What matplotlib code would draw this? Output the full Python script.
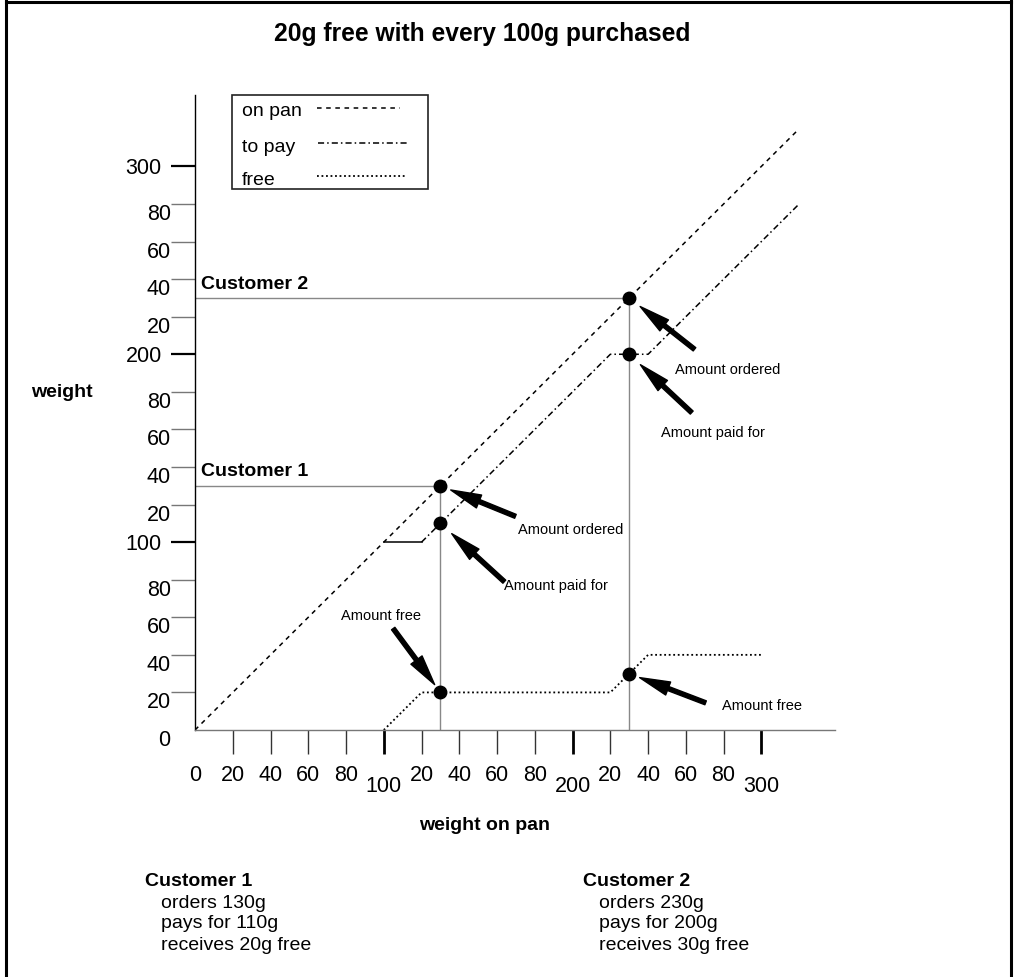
import matplotlib
matplotlib.use('Agg')
import matplotlib.pyplot as plt
from matplotlib.lines import Line2D
from matplotlib.patches import Rectangle

plt.rcParams['font.family'] = ['Liberation Sans', 'DejaVu Sans']

# lines: weight on pan, weight to pay, weight free
pan_x = [0, 320]
pan_y = [0, 320]
pay_x = [100, 120, 220, 240, 320]
pay_y = [100, 100, 200, 200, 280]
free_x = [100, 120, 220, 240, 300]
free_y = [0, 20, 20, 40, 40]

# the two customers
customers = ['Customer 1', 'Customer 2']
cust_pan = [130, 230]
cust_pay = [110, 200]
cust_free = [20, 30]

# ticks
major_ticks = [100, 200, 300]
major_labels = ['100', '200', '300']
minor_ticks = [0, 20, 40, 60, 80, 120, 140, 160, 180, 220, 240, 260, 280]
minor_labels = ['0', '20', '40', '60', '80', '20', '40', '60', '80', '20', '40', '60', '80']

W, H = 1015, 977
fig = plt.figure(figsize=(W / 100, H / 100), dpi=100)


def fx(x):
    return x / W


def fy(y):
    return 1 - y / H


ax = fig.add_axes([fx(195), fy(730), 640 / W, 635 / H])
ax.set_xlim(0, 339)
ax.set_ylim(0, 338)

for s in ['top', 'right']:
    ax.spines[s].set_visible(False)
ax.spines['left'].set_color('black')
ax.spines['left'].set_linewidth(1.0)
ax.spines['bottom'].set_color('#777777')
ax.spines['bottom'].set_linewidth(1.0)

# curves
ax.plot(pan_x, pan_y, color='black', lw=1.1, linestyle=(0, (3, 3)))
ax.plot(pay_x[:2], pay_y[:2], color='black', lw=1.1)
ax.plot(pay_x[1:], pay_y[1:], color='black', lw=1.1, linestyle=(0, (4, 2, 1, 2)))
ax.plot(free_x, free_y, color='black', lw=1.3, linestyle=(0, (1, 1.5)))

# customer guide lines, dots, arrows
arrow = dict(arrowstyle='simple,head_length=2.2,head_width=1.0,tail_width=0.3',
             fc='black', ec='black', mutation_scale=10, shrinkA=0)
ordered_off = [((54, -22), 8, (56, -32), 'left'), ((47, -37), 10, (33, -52), 'left')]
paid_off = [((46, -42), 11, (46, -45), 'left'), ((45, -42), 11, (23, -57), 'left')]
free_off = [((-34, 46), 7, (-43, 55), 'center'), ((55, -21), 8, (67, -23), 'left')]

for i, name in enumerate(customers):
    x = cust_pan[i]
    ax.plot([0, x], [cust_pan[i], cust_pan[i]], color='#888888', lw=1.0, zorder=1)
    ax.plot([x, x], [0, cust_pan[i]], color='#888888', lw=1.0, zorder=1)
    ax.annotate(name, xy=(0, cust_pan[i]), xytext=(4, 10), textcoords='offset points',
                fontsize=14, fontweight='bold', va='center', ha='left')
    ax.plot([x, x, x], [cust_pan[i], cust_pay[i], cust_free[i]], 'o',
            color='black', ms=9, zorder=5)
    for yv, (tail, shr, txt, ha), label in [(cust_pan[i], ordered_off[i], 'Amount ordered'),
                                            (cust_pay[i], paid_off[i], 'Amount paid for'),
                                            (cust_free[i], free_off[i], 'Amount free')]:
        ax.annotate('', xy=(x, yv), xytext=tail, textcoords='offset points',
                    arrowprops=dict(arrow, shrinkB=shr))
        ax.annotate(label, xy=(x, yv), xytext=txt, textcoords='offset points',
                    fontsize=10.5, ha=ha, va='center')

# ticks
for axis in (ax.xaxis, ax.yaxis):
    axis.set_ticks(major_ticks, major_labels)
    axis.set_ticks(minor_ticks, minor_labels, minor=True)
ax.tick_params(which='both', labelsize=15.5)
ax.tick_params(axis='x', which='major', length=17, width=2, color='black', pad=16)
ax.tick_params(axis='x', which='minor', length=17, width=1, color='#333333', pad=8)
ax.tick_params(axis='y', which='major', length=17, width=1.6, color='black', pad=7)
ax.tick_params(axis='y', which='minor', length=17, width=1, color='#777777', pad=0.5)
ax.xaxis.get_minor_ticks()[0].tick1line.set_visible(False)
ax.yaxis.get_minor_ticks()[0].tick1line.set_visible(False)
for lab in ax.get_yticklabels(minor=True):
    lab.set_va('top')

ax.set_xlabel('weight on pan', fontsize=14, fontweight='bold', va='center')
ax.xaxis.set_label_coords(0.453, -0.151)
ax.set_ylabel('weight', fontsize=14, fontweight='bold', rotation=0, ha='center', va='center')
ax.yaxis.set_label_coords(-0.208, 0.531)

# legend box, drawn by hand so the labels sit left of the samples
fig.add_artist(Rectangle((fx(232), fy(189)), 196 / W, 94 / H, transform=fig.transFigure,
                         fill=False, ec='#222222', lw=1.2))
leg = [('on pan', 112, 108, (0, (3, 3)), 317, 400, 1.1),
       ('to pay', 147, 143, (0, (4, 2, 1, 2)), 318, 408, 1.1),
       ('free', 180, 176, (0, (1, 1.5)), 317, 405, 1.3)]
for label, ty, ly, ls, x0, x1, lw in leg:
    fig.text(fx(242), fy(ty), label, fontsize=14, va='center', ha='left')
    fig.add_artist(Line2D([fx(x0), fx(x1)], [fy(ly), fy(ly)], transform=fig.transFigure,
                          color='black', lw=lw, linestyle=ls))

fig.text(fx(482), fy(34), '20g free with every 100g purchased', fontsize=17.7,
         fontweight='bold', ha='center', va='center')

# summary under the chart
notes = [(145, 'Customer 1', ['orders 130g', 'pays for 110g', 'receives 20g free']),
         (583, 'Customer 2', ['orders 230g', 'pays for 200g', 'receives 30g free'])]
for left, head, rows in notes:
    fig.text(fx(left), fy(882), head, fontsize=14, fontweight='bold', va='center')
    for j, r in enumerate(rows):
        fig.text(fx(left + 16), fy(903 + 21 * j), r, fontsize=14, va='center')

# frame round the picture
for xs, ys in [([6, 6], [0, H]), ([6, 1011], [2, 2]), ([1011, 1011], [0, H])]:
    fig.add_artist(Line2D([fx(v) for v in xs], [fy(v) for v in ys],
                          transform=fig.transFigure, color='black', lw=2.2))

fig.savefig('out.png', dpi=100)
